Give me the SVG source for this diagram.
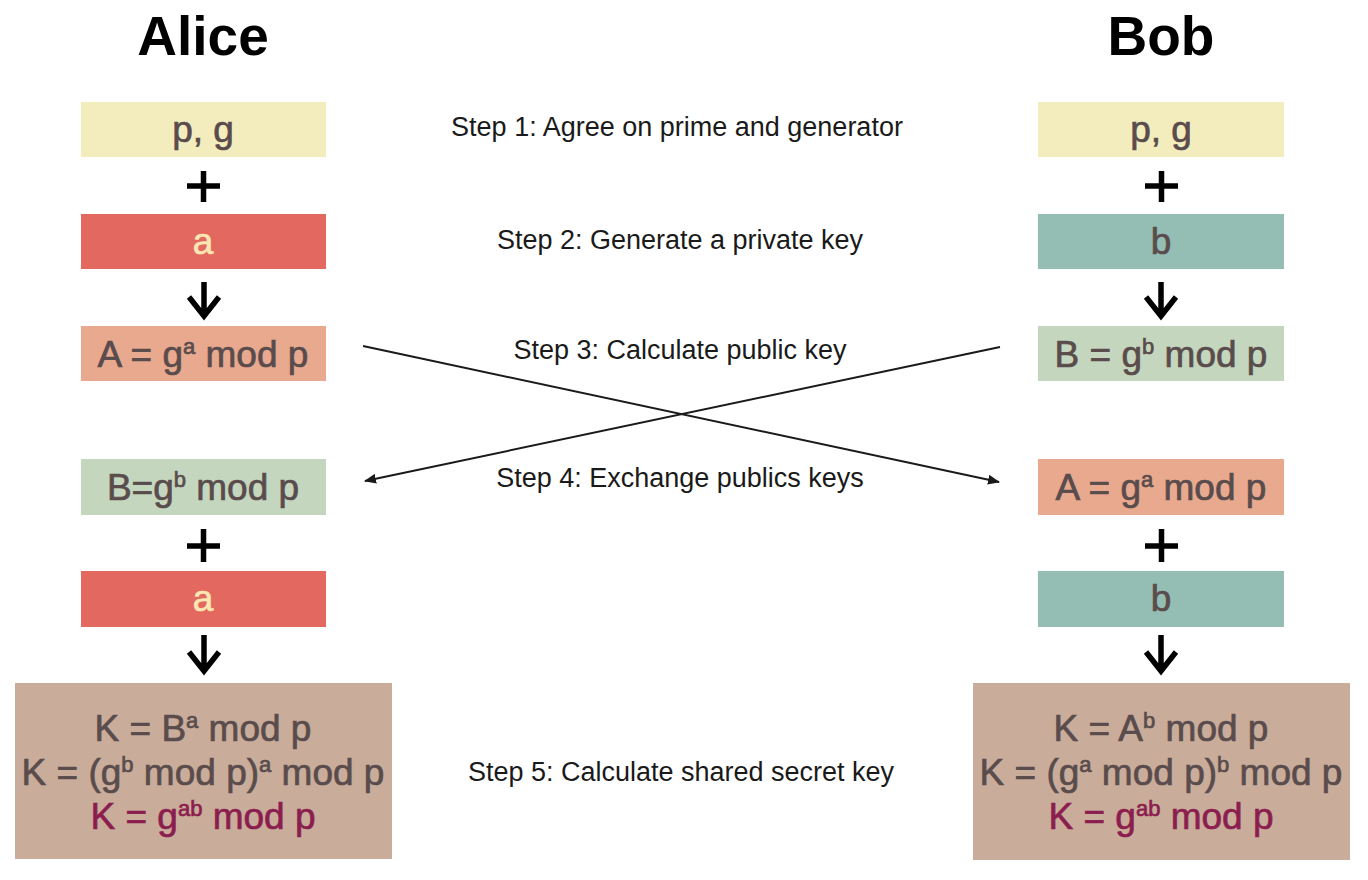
<svg xmlns="http://www.w3.org/2000/svg" width="1368" height="880" viewBox="0 0 1368 880">
<defs>
<style>
.title{font-family:"Liberation Sans",Arial,sans-serif;font-weight:bold;font-size:55px;fill:#000;text-anchor:middle}
.step{font-family:"Liberation Sans",Arial,sans-serif;font-size:27px;fill:#1a1a1a;text-anchor:middle}
.bt{font-family:"Liberation Sans",Arial,sans-serif;font-size:37px;fill:#5a4c4c;stroke:#5a4c4c;stroke-width:0.7;text-anchor:middle}
.cream{fill:#fbe6b4;stroke:#fbe6b4}
.mag{fill:#8b1e4f;stroke:#8b1e4f}
.sym{stroke:#000;stroke-width:5.5;fill:none;stroke-linecap:butt}
.conn{stroke:#1a1a1a;stroke-width:2;fill:none}
.yel{fill:#f3ecbd}.red{fill:#e3685f}.sal{fill:#e8a98f}.teal{fill:#94bdb3}.grn{fill:#c4d7be}.tan{fill:#c9ac9a}
</style>
<marker id="ah" viewBox="0 0 12 10" refX="11" refY="5" markerWidth="12" markerHeight="10" markerUnits="userSpaceOnUse" orient="auto">
<path d="M0,0 L12,5 L0,10 z" fill="#1a1a1a"/>
</marker>
</defs>
<rect width="1368" height="880" fill="#fff"/>

<text class="title" x="203" y="55">Alice</text>
<text class="title" x="1161" y="55">Bob</text>

<g id="steps">
<text class="step" x="677" y="136">Step 1: Agree on prime and generator</text>
<text class="step" x="680" y="249">Step 2: Generate a private key</text>
<text class="step" x="680" y="359">Step 3: Calculate public key</text>
<text class="step" x="680" y="487">Step 4: Exchange publics keys</text>
<text class="step" x="681" y="781">Step 5: Calculate shared secret key</text>
</g>

<g id="alice-pg"><rect class="yel" x="81" y="102" width="245" height="55"/><text class="bt" x="203" y="142">p, g</text></g>
<g id="alice-a1"><rect class="red" x="81" y="214" width="245" height="55"/><text class="bt cream" x="203" y="254">a</text></g>
<g id="alice-A"><rect class="sal" x="81" y="326" width="245" height="55"/><text class="bt" x="203" y="367">A = g<tspan font-size="22" dy="-13">a</tspan><tspan dy="13"> mod p</tspan></text></g>
<g id="alice-B"><rect class="grn" x="81" y="459" width="245" height="56"/><text class="bt" x="203" y="500">B=g<tspan font-size="22" dy="-13">b</tspan><tspan dy="13"> mod p</tspan></text></g>
<g id="alice-a2"><rect class="red" x="81" y="571" width="245" height="56"/><text class="bt cream" x="203" y="611">a</text></g>
<g id="alice-K"><rect class="tan" x="15" y="683" width="377" height="176"/>
<text class="bt" x="203" y="741">K = B<tspan font-size="22" dy="-13">a</tspan><tspan dy="13"> mod p</tspan></text>
<text class="bt" x="203" y="785">K = (g<tspan font-size="22" dy="-13">b</tspan><tspan dy="13"> mod p)</tspan><tspan font-size="22" dy="-13">a</tspan><tspan dy="13"> mod p</tspan></text>
<text class="bt mag" x="203" y="829">K = g<tspan font-size="22" dy="-13">ab</tspan><tspan dy="13"> mod p</tspan></text>
</g>

<g id="bob-pg"><rect class="yel" x="1038" y="102" width="246" height="55"/><text class="bt" x="1161" y="142">p, g</text></g>
<g id="bob-b1"><rect class="teal" x="1038" y="214" width="246" height="55"/><text class="bt" x="1161" y="254">b</text></g>
<g id="bob-B"><rect class="grn" x="1038" y="326" width="246" height="55"/><text class="bt" x="1161" y="367">B = g<tspan font-size="22" dy="-13">b</tspan><tspan dy="13"> mod p</tspan></text></g>
<g id="bob-A"><rect class="sal" x="1038" y="459" width="246" height="56"/><text class="bt" x="1161" y="500">A = g<tspan font-size="22" dy="-13">a</tspan><tspan dy="13"> mod p</tspan></text></g>
<g id="bob-b2"><rect class="teal" x="1038" y="571" width="246" height="56"/><text class="bt" x="1161" y="611">b</text></g>
<g id="bob-K"><rect class="tan" x="973" y="683" width="377" height="177"/>
<text class="bt" x="1161" y="741">K = A<tspan font-size="22" dy="-13">b</tspan><tspan dy="13"> mod p</tspan></text>
<text class="bt" x="1161" y="785">K = (g<tspan font-size="22" dy="-13">a</tspan><tspan dy="13"> mod p)</tspan><tspan font-size="22" dy="-13">b</tspan><tspan dy="13"> mod p</tspan></text>
<text class="bt mag" x="1161" y="829">K = g<tspan font-size="22" dy="-13">ab</tspan><tspan dy="13"> mod p</tspan></text>
</g>

<g id="operators">
<path class="sym" d="M187,186 H220 M203.5,171 V202"/>
<path class="sym" d="M204,282 V314 M189,297 L204,316 L219,297"/>
<path class="sym" d="M187,546 H220 M203.5,529 V562"/>
<path class="sym" d="M204,635 V669 M189,652 L204,671 L219,652"/>
<path class="sym" d="M1145,186 H1178 M1161.5,171 V202"/>
<path class="sym" d="M1161,282 V314 M1146,297 L1161,316 L1176,297"/>
<path class="sym" d="M1145,546 H1178 M1161.5,529 V562"/>
<path class="sym" d="M1161,635 V669 M1146,652 L1161,671 L1176,652"/>
</g>

<g id="connectors">
<line class="conn" x1="363" y1="346" x2="999" y2="482" marker-end="url(#ah)"/>
<line class="conn" x1="1000" y1="347" x2="365" y2="481" marker-end="url(#ah)"/>
</g>
</svg>
